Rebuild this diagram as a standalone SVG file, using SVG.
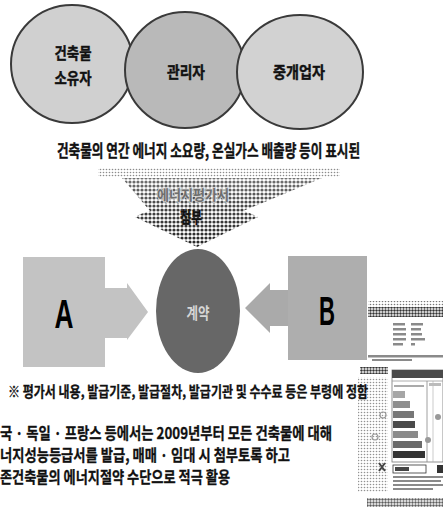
<svg xmlns="http://www.w3.org/2000/svg" width="443" height="515" viewBox="0 0 443 515">
  <style>
    .ko{font-family:"Noto Sans CJK KR","Noto Sans CJK SC",sans-serif}
    .lat{font-family:"Liberation Sans",Arial,sans-serif}
    .party{stroke:#3a3a3a;stroke-width:2}
    .lbl{font-size:16px;font-weight:700;fill:#111;stroke:#111;stroke-width:0.4;text-anchor:middle}
    .big{font-size:40px;font-weight:700;fill:#000;text-anchor:middle}
    .body{font-size:16px;font-weight:700;fill:#111;stroke:#111;stroke-width:0.3}
    .tiny{fill:#8a8a8a}
  </style>
  <defs>
    <!-- halftone dot textures -->
    <pattern id="dots" width="4" height="4" patternUnits="userSpaceOnUse">
      <circle cx="2" cy="2" r="1.6" fill="#1e1e1e"/>
    </pattern>
    <pattern id="fineDots" width="3" height="3" patternUnits="userSpaceOnUse">
      <circle cx="1.5" cy="1.5" r="1.2" fill="#333"/>
    </pattern>
    <pattern id="lightDots" width="3" height="3" patternUnits="userSpaceOnUse">
      <circle cx="1.5" cy="1.5" r="0.8" fill="#777"/>
    </pattern>
    <linearGradient id="fadeGrad" x1="0" y1="0" x2="0" y2="1">
      <stop offset="0" stop-color="#8a8a8a"/>
      <stop offset="0.5" stop-color="#d8d8d8"/>
      <stop offset="1" stop-color="#fff"/>
    </linearGradient>
    <mask id="fadeMask" maskUnits="userSpaceOnUse" x="90" y="165" width="260" height="90">
      <rect x="90" y="165" width="260" height="90" fill="url(#fadeGrad)"/>
    </mask>
  </defs>

  <rect width="443" height="515" fill="#fff"/>

  <!-- parties -->
  <g id="owner">
    <ellipse class="party" cx="72" cy="64" rx="61" ry="59" fill="#d0d0d0"/>
    <text class="ko lbl" x="73" y="59" textLength="37" lengthAdjust="spacingAndGlyphs">건축물</text>
    <text class="ko lbl" x="73" y="84" textLength="37" lengthAdjust="spacingAndGlyphs">소유자</text>
  </g>
  <g id="manager">
    <ellipse class="party" cx="185" cy="70" rx="60" ry="58" fill="#b9b9b9"/>
    <text class="ko lbl" x="186" y="78" textLength="38" lengthAdjust="spacingAndGlyphs">관리자</text>
  </g>
  <g id="broker">
    <ellipse class="party" cx="300" cy="72" rx="63" ry="57" fill="#d2d2d2"/>
    <text class="ko lbl" x="299" y="78" textLength="52" lengthAdjust="spacingAndGlyphs">중개업자</text>
  </g>

  <!-- caption, horizontally condensed -->
  <text class="ko" transform="translate(57,157) scale(0.7,1)" x="0" y="0" font-size="17" font-weight="700" fill="#111" stroke="#111" stroke-width="0.4" textLength="433" lengthAdjust="spacingAndGlyphs">건축물의 연간 에너지 소요량, 온실가스 배출량 등이 표시된</text>

  <!-- attachment arrow -->
  <g id="certificate">
    <rect x="98" y="168" width="242" height="9" fill="url(#lightDots)" opacity="0.85"/>
    <path d="M122,178 L322,178 L243,211 Q251,213 258,217 L197,247 L135,217 Q142,213 150,211 Z" fill="url(#dots)" mask="url(#fadeMask)"/>
    <text class="ko" x="193" y="200" font-size="14" font-weight="700" fill="#6e6e6e" stroke="#d0d0d0" stroke-width="1.6" paint-order="stroke" text-anchor="middle" textLength="72" lengthAdjust="spacingAndGlyphs">에너지평가서</text>
    <text class="ko" x="191" y="223" font-size="16" font-weight="700" fill="#111" stroke="#111" stroke-width="0.4" text-anchor="middle" textLength="22" lengthAdjust="spacingAndGlyphs">첨부</text>
  </g>

  <!-- contract -->
  <g id="contract">
    <ellipse cx="198" cy="311" rx="42" ry="62" fill="#676767"/>
    <text class="ko" x="198" y="319" font-size="16" font-weight="700" fill="#d6d6d6" text-anchor="middle" textLength="23" lengthAdjust="spacingAndGlyphs">계약</text>
  </g>

  <g id="partyA">
    <rect x="23" y="257" width="82" height="110" fill="#c3c3c3"/>
    <text class="lat big" x="64" y="328" textLength="19" lengthAdjust="spacingAndGlyphs">A</text>
  </g>
  <g id="partyB">
    <rect x="288" y="256" width="79" height="104" fill="#aeaeae"/>
    <text class="lat big" x="327" y="325" textLength="16" lengthAdjust="spacingAndGlyphs">B</text>
  </g>

  <g id="connectors">
    <path d="M105,288 L127,288 L127,283 L148,312 L127,340 L127,338 L105,338 Z" fill="#c3c3c3"/>
    <path d="M288,290 L270,290 L270,283 L245,308 L270,333 L270,326 L288,326 Z" fill="#aaaaaa"/>
  </g>

  <!-- certificate sheet thumbnail -->
  <g id="sheet">
    <rect x="368" y="301" width="75" height="6" fill="url(#lightDots)"/>
    <rect x="368" y="307" width="75" height="10" fill="url(#fineDots)"/>
    <g class="tiny">
      <rect x="393" y="323" width="12" height="2.5"/><rect x="411" y="323" width="12" height="2.5"/>
      <rect x="393" y="328" width="13" height="2.5"/><rect x="411" y="328" width="10" height="2.5"/>
      <rect x="393" y="333" width="13" height="2.5"/><rect x="411" y="333" width="11" height="2.5"/>
      <rect x="393" y="338" width="13" height="2.5"/><rect x="411" y="338" width="14" height="2.5"/>
      <rect x="393" y="343" width="10" height="2.5"/><rect x="411" y="343" width="4" height="2.5"/>
      <rect x="368" y="355" width="75" height="2.5"/>
      <rect x="372" y="359" width="40" height="2"/>
    </g>
    <rect x="360" y="367" width="28" height="7" fill="url(#fineDots)"/>
    <rect x="358" y="377" width="30" height="115" fill="url(#lightDots)" opacity="0.8"/>
    <rect x="392" y="370" width="51" height="92" fill="#fff" stroke="#777" stroke-width="0.8"/>
    <rect x="392" y="370" width="51" height="8" fill="#4a4a4a"/>
    <line x1="392" y1="381" x2="443" y2="381" stroke="#999" stroke-width="0.8"/>
    <line x1="427" y1="381" x2="427" y2="462" stroke="#888" stroke-width="0.8"/>
    <line x1="433" y1="381" x2="433" y2="462" stroke="#aaa" stroke-width="0.6"/>
    <rect x="429" y="383" width="12" height="3" fill="#bbb"/>
    <rect x="394" y="385" width="30" height="2" fill="#aaa"/>
    <rect x="393" y="391" width="12" height="7" fill="#a6a6a6"/>
    <rect x="393" y="401" width="17" height="7" fill="#8e8e8e"/>
    <rect x="393" y="411" width="21" height="7" fill="#777"/>
    <rect x="393" y="421" width="22" height="7" fill="#4a4a4a"/>
    <rect x="393" y="431" width="25" height="7" fill="#8a8a8a"/>
    <rect x="393" y="441" width="29" height="7" fill="#6a6a6a"/>
    <rect x="393" y="451" width="32" height="7" fill="#333"/>
    <circle cx="438" cy="417" r="3" fill="#999"/>
    <circle cx="428" cy="440" r="3" fill="#999"/>
    <circle cx="383" cy="415" r="3" fill="none" stroke="#999" stroke-width="1.2"/>
    <circle cx="375" cy="437" r="3" fill="none" stroke="#999" stroke-width="1.2"/>
    <path d="M379,463 L385,471 M385,463 L379,471" stroke="#444" stroke-width="2"/>
    <rect x="393" y="465" width="33" height="8" fill="#fff" stroke="#333" stroke-width="0.8"/>
    <rect x="395" y="467" width="14" height="4" fill="#444"/>
    <rect x="437" y="465" width="6" height="8" fill="#333"/>
    <g class="tiny">
      <rect x="393" y="476" width="50" height="2"/>
      <rect x="393" y="480" width="48" height="2"/>
      <rect x="393" y="484" width="50" height="2"/>
      <rect x="393" y="488" width="40" height="2"/>
    </g>
    <rect x="367" y="498" width="76" height="9" fill="url(#fineDots)" opacity="0.8"/>
  </g>

  <!-- notes -->
  <text class="ko" x="8" y="397" font-size="14.5" font-weight="700" fill="#111" stroke="#111" stroke-width="0.3" textLength="360" lengthAdjust="spacingAndGlyphs">※  평가서 내용,  발급기준, 발급절차, 발급기관 및 수수료 등은 부령에 정함</text>
  <text class="ko body" x="0" y="439" textLength="332" lengthAdjust="spacingAndGlyphs">국 · 독일 · 프랑스 등에서는 2009년부터 모든 건축물에 대해</text>
  <text class="ko body" x="0" y="461" textLength="290" lengthAdjust="spacingAndGlyphs">너지성능등급서를 발급, 매매 · 임대 시 첨부토록 하고</text>
  <text class="ko body" x="0" y="483" textLength="230" lengthAdjust="spacingAndGlyphs">존건축물의 에너지절약 수단으로 적극 활용</text>
</svg>
